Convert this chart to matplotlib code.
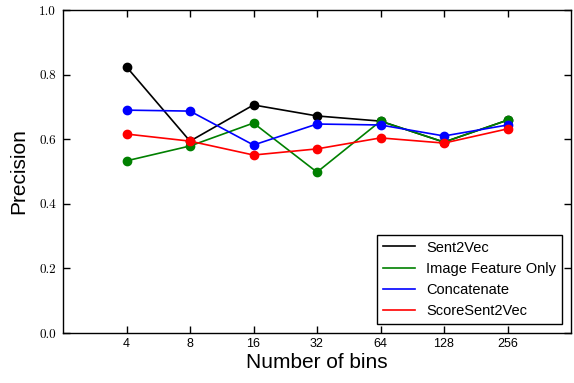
import matplotlib
matplotlib.use('Agg')
import matplotlib.pyplot as plt
from matplotlib.lines import Line2D

bins = ['4', '8', '16', '32', '64', '128', '256']
sent2vec = [0.824, 0.594, 0.706, 0.672, 0.656, 0.591, 0.659]
image_only = [0.533, 0.579, 0.650, 0.498, 0.656, 0.591, 0.659]
concatenate = [0.690, 0.687, 0.582, 0.647, 0.644, 0.610, 0.644]
score_sent2vec = [0.616, 0.594, 0.551, 0.570, 0.604, 0.588, 0.632]

series = [
    ('Sent2Vec', sent2vec, 'black'),
    ('Image Feature Only', image_only, 'green'),
    ('Concatenate', concatenate, 'blue'),
    ('ScoreSent2Vec', score_sent2vec, 'red'),
]

fig = plt.figure(figsize=(5.74, 3.83), dpi=100)
ax = fig.add_axes([63 / 574, 50 / 383, 508 / 574, 323 / 383])

xs = list(range(len(bins)))
handles = []
for name, vals, col in series:
    ax.plot(xs, vals, color=col, lw=1.2, marker='o', ms=6, mec=col, mfc=col)
    handles.append(Line2D([], [], color=col, lw=1.2, label=name))

ax.set_xlim(-1, 7)
ax.set_ylim(0, 1.0)
ax.set_xticks(xs)
ax.set_xticklabels(bins, fontsize=9, family='Liberation Sans')
ax.set_yticks([0.0, 0.2, 0.4, 0.6, 0.8, 1.0])
ax.set_yticklabels(['0.0', '0.2', '0.4', '0.6', '0.8', '1.0'], fontsize=9.5, family='cmr10')
ax.tick_params(direction='in', top=True, right=True, length=5, width=1)
ax.tick_params(axis='y', pad=5)
for s in ax.spines.values():
    s.set_linewidth(1.0)

ax.set_xlabel('Number of bins', fontsize=15, family='Liberation Sans', labelpad=2)
ax.set_ylabel('Precision', fontsize=15, family='Liberation Sans', labelpad=8)

leg = ax.legend(handles=handles, loc='lower right', fancybox=False, framealpha=1,
                edgecolor='black', prop={'family': 'Liberation Sans', 'size': 10.5},
                handlelength=2.2, borderaxespad=0.6)
leg.get_frame().set_linewidth(1.0)

fig.savefig('out.png', dpi=100)
